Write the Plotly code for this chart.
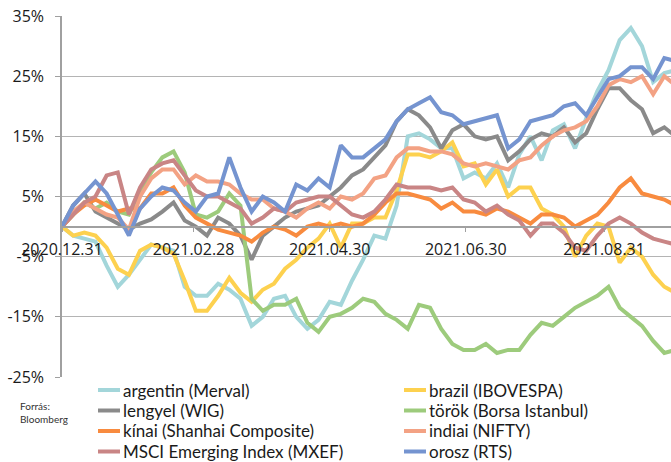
import pandas as pd
import plotly.graph_objects as go

# Cumulative index performance since 2020.12.31, sampled every 5 calendar days (%)
dates = pd.date_range(start="2020-12-31", periods=56, freq="5D")

argentin = [0, -1.5, -2.0, -2.5, -6.5, -10.0, -8.0, -5.5, -3.0, -3.5, -4.0, -10.0, -11.5, -11.5,
            -9.5, -10.5, -12.0, -16.5, -15.0, -12.0, -11.5, -15.0, -17.0, -15.5, -12.5, -13.0, -9.0,
            -5.5, -1.5, -2.0, 3.5, 15.0, 15.5, 14.5, 13.0, 13.0, 8.0, 9.0, 8.0, 10.5, 6.5, 12.0, 15.0,
            11.0, 16.0, 17.0, 13.0, 18.0, 22.5, 26.0, 31.0, 33.0, 30.0, 24.0, 25.5, 26.0]

brazil = [0, -1.5, -1.0, -1.5, -3.5, -7.0, -8.0, -4.0, -3.0, -3.5, -4.5, -9.0, -14.0, -14.0,
          -11.5, -8.5, -11.0, -12.5, -10.5, -9.5, -7.0, -5.5, -3.5, -2.0, 0.5, -3.5, 0.5, 0.5, 1.5,
          1.5, 6.0, 12.0, 12.0, 11.5, 12.5, 14.0, 10.0, 10.5, 7.0, 9.5, 5.0, 6.5, 6.5, 3.0, 2.0, 0.0,
          -5.0, -1.5, 0.5, 0.0, -6.0, -3.5, -5.0, -8.0, -10.0, -11.0]

lengyel = [0, 3.5, 5.5, 2.5, 1.5, 0.5, -0.5, 0.5, 1.2, 2.5, 4.0, 1.0, 0.0, -1.5, 1.5, 0.5, -1.5,
           -5.5, -1.5, 0.0, 1.5, 2.5, 3.0, 3.5, 5.0, 6.5, 8.5, 9.5, 11.5, 13.5, 17.5, 19.5, 18.5,
           16.5, 13.0, 16.0, 17.0, 15.0, 14.5, 15.0, 11.0, 12.5, 14.5, 15.5, 15.0, 16.5, 14.0, 15.5,
           19.5, 23.0, 23.0, 21.0, 19.5, 15.5, 16.5, 15.0]

torok = [0, 2.0, 4.0, 3.0, 4.0, 2.5, 2.0, 6.0, 9.0, 11.5, 12.5, 9.0, 2.0, 1.5, 2.5, 5.5, 3.5,
         -12.0, -14.0, -13.0, -13.0, -12.0, -16.0, -17.5, -15.0, -14.5, -13.5, -12.0, -12.5, -14.5,
         -15.5, -17.0, -13.0, -13.5, -17.0, -19.5, -20.5, -20.5, -19.5, -21.0, -20.5, -20.5, -18.0,
         -16.0, -16.5, -15.0, -13.5, -12.5, -11.5, -10.0, -13.5, -15.0, -16.5, -19.0, -21.0, -20.5]

kinai = [0, 2.0, 3.5, 4.5, 3.5, 2.5, 3.0, 3.0, 5.5, 5.5, 6.5, 3.5, 1.5, 0.5, -0.5, -1.0, -1.5,
         -2.5, -1.0, 0.0, -0.5, -1.5, 0.0, 0.5, 0.0, 0.5, 0.0, 0.5, 2.0, 4.0, 5.5, 5.5, 5.0, 4.5,
         3.0, 4.0, 2.5, 2.5, 2.0, 3.0, 2.5, 1.5, 0.5, 2.0, 2.0, 1.5, 0.0, 1.0, 2.0, 4.0, 6.5, 8.0,
         5.5, 5.0, 4.5, 3.5]

indiai = [0, 2.5, 4.0, 3.0, 2.0, 1.5, -0.5, 5.0, 8.0, 9.5, 9.5, 7.0, 8.5, 7.5, 7.5, 7.0, 5.5,
          4.5, 4.5, 3.0, 2.5, 1.5, 3.0, 4.0, 3.0, 5.0, 4.5, 5.5, 8.0, 8.5, 11.5, 13.0, 13.0, 12.5,
          12.5, 12.0, 10.5, 10.0, 10.5, 10.0, 9.5, 11.0, 11.5, 13.5, 15.0, 16.0, 16.5, 17.5, 20.0,
          23.5, 24.5, 24.0, 25.0, 22.0, 25.0, 23.5]

msci = [0, 2.0, 4.0, 5.0, 8.5, 9.0, 2.0, 6.5, 9.5, 10.5, 11.0, 8.5, 6.0, 5.0, 5.0, 4.0, 3.0, 0.5,
        1.5, 3.0, 2.5, 4.0, 4.5, 5.0, 5.0, 3.5, 2.0, 1.5, 2.5, 4.5, 7.0, 6.5, 6.5, 6.5, 6.0, 6.5,
        4.5, 4.0, 2.5, 3.5, 2.0, 1.0, -1.5, 0.5, 0.5, -1.0, -3.5, -4.0, -1.5, 0.5, 1.5, 0.5, -1.0,
        -2.0, -2.5, -3.0]

orosz = [0, 3.5, 5.5, 7.5, 5.5, 2.0, -1.5, 3.0, 5.0, 6.5, 6.0, 4.0, 2.5, 5.0, 5.5, 11.5, 6.5,
         2.5, 5.0, 4.0, 2.5, 7.0, 6.0, 8.0, 6.5, 13.5, 11.5, 11.5, 13.0, 14.5, 17.5, 19.5, 20.5,
         21.5, 19.0, 18.5, 17.0, 17.5, 18.0, 18.5, 13.0, 14.5, 17.5, 18.0, 18.5, 20.0, 20.5, 18.5,
         21.5, 24.5, 25.0, 26.5, 26.5, 24.5, 28.0, 27.5]

series_names = ["argentin (Merval)", "brazil (IBOVESPA)", "lengyel (WIG)", "török (Borsa Istanbul)",
                "kínai (Shanhai Composite)", "indiai (NIFTY)", "MSCI Emerging Index (MXEF)", "orosz (RTS)"]
series_values = [argentin, brazil, lengyel, torok, kinai, indiai, msci, orosz]
series_colors = ["#a3d6da", "#fdd14f", "#8a8a8a", "#9dcb7c", "#f88b3f", "#f3a284", "#c98585", "#7594d0"]

y_ticks = [-25, -15, -5, 5, 15, 25, 35]
y_tick_labels = ["-25%", "-15%", "-5%", "5%", "15%", "25%", "35%"]
x_tick_dates = ["2020-12-31", "2021-02-28", "2021-04-30", "2021-06-30", "2021-08-31"]
x_tick_labels = ["2020.12.31", "2021.02.28", "2021.04.30", "2021.06.30", "2021.08.31"]

W, H = 671, 462
ML, MR, MT, MB = 62, 0, 16, 85
PW, PH = W - ML - MR, H - MT - MB

fig = go.Figure()
for name, vals, col in zip(series_names, series_values, series_colors):
    fig.add_trace(go.Scatter(x=dates, y=vals, name=name, mode="lines",
                             line=dict(color=col, width=4), showlegend=False))

y_min, y_max = -25, 35
fig.update_layout(
    width=W, height=H,
    margin=dict(l=ML, r=MR, t=MT, b=MB, autoexpand=False),
    paper_bgcolor="white", plot_bgcolor="white",
    font=dict(family="Open Sans, sans-serif", color="#1a1a1a"),
    showlegend=False,
    xaxis=dict(type="date", range=["2020-12-31", "2021-09-30"],
               tickvals=x_tick_dates, ticktext=x_tick_labels,
               anchor="free", position=(0 - y_min) / (y_max - y_min),
               showline=True, linecolor="#a0a0a0", linewidth=1.5,
               ticks="outside", ticklen=5, tickcolor="#a0a0a0",
               ticklabelstandoff=3,
               showgrid=False, zeroline=False,
               tickfont=dict(size=16, color="#1a1a1a")),
    yaxis=dict(range=[y_min, y_max], tickvals=y_ticks, ticktext=y_tick_labels,
               showline=True, linecolor="#a0a0a0", linewidth=1.5,
               ticks="outside", ticklen=5, tickcolor="#a0a0a0",
               ticklabelstandoff=8,
               showgrid=True, gridcolor="#b4b4b4", gridwidth=1, zeroline=False,
               tickfont=dict(size=16, color="#1a1a1a")),
)


def px_x(px):
    return (px - ML) / PW


def px_y(py):
    return (H - MB - py) / PH


# Two-column legend below the plot: short line sample followed by the series name
col_sample_left = [98, 404]
row_centres = [390, 410.5, 431, 451.5]
for i, (name, col) in enumerate(zip(series_names, series_colors)):
    c, r = i % 2, i // 2
    x0 = col_sample_left[c]
    yc = row_centres[r]
    fig.add_shape(type="line", xref="paper", yref="paper",
                  x0=px_x(x0), x1=px_x(x0 + 22), y0=px_y(yc), y1=px_y(yc),
                  line=dict(color=col, width=4))
    fig.add_annotation(text=name, xref="paper", yref="paper",
                       x=px_x(x0 + 23), y=px_y(yc), xanchor="left", yanchor="middle",
                       showarrow=False, font=dict(family="Lato, sans-serif", size=17, color="#1a1a1a"))

fig.add_annotation(text="Forrás:<br>Bloomberg", xref="paper", yref="paper",
                   x=px_x(18), y=px_y(398), xanchor="left", yanchor="top", showarrow=False,
                   align="left", font=dict(family="Lato, sans-serif", size=10, color="#333333"))

fig.write_html("out.html")
